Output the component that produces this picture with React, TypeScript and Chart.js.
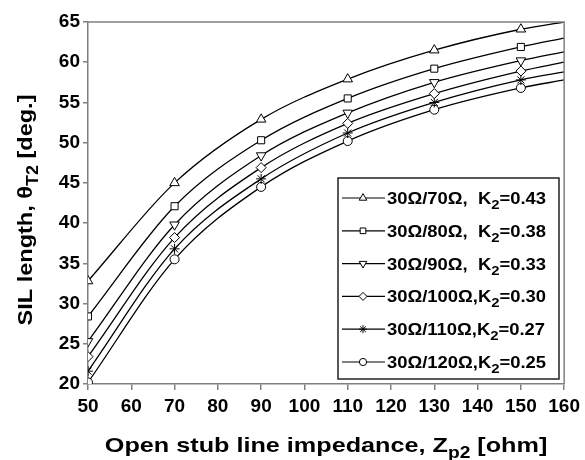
import React, { useEffect, useRef } from "react";
import { Chart, registerables } from "chart.js";

Chart.register(...registerables);

const impedance = [50, 70, 90, 110, 130, 150, 160];
const s70 = [32.8, 45.0, 52.9, 57.9, 61.5, 64.1, 65.0];
const s80 = [28.4, 42.1, 50.3, 55.5, 59.2, 61.9, 63.0];
const s90 = [25.3, 39.8, 48.4, 53.7, 57.5, 60.2, 61.3];
const s100 = [23.4, 38.2, 46.9, 52.4, 56.1, 58.9, 60.0];
const s110 = [21.6, 36.8, 45.5, 51.2, 55.0, 57.8, 58.8];
const s120 = [20.2, 35.5, 44.5, 50.2, 54.1, 56.8, 57.8];

const labelMain = ["30Ω/70Ω,  K", "30Ω/80Ω,  K", "30Ω/90Ω,  K", "30Ω/100Ω,K", "30Ω/110Ω,K", "30Ω/120Ω,K"];
const labelK = ["=0.43", "=0.38", "=0.33", "=0.30", "=0.27", "=0.25"];
const markerStyles = ["triangle", "rect", "triangle", "rectRot", "star", "circle"];
const markerRot = [0, 0, 180, 0, 0, 0];
const markerRadius = [5.5, 5, 5.5, 5, 5, 4.5];

const FONT = "'Liberation Sans', Arial, sans-serif";

type Part = { t: string; sub?: boolean };

function drawRich(ctx: CanvasRenderingContext2D, parts: Part[], x: number, y: number, size: number, subSize: number, subDy: number, align: "left" | "center", hs: number) {
  const fMain = `bold ${size}px ${FONT}`;
  const fSub = `bold ${subSize}px ${FONT}`;
  let total = 0;
  for (const p of parts) {
    ctx.font = p.sub ? fSub : fMain;
    total += ctx.measureText(p.t).width;
  }
  ctx.save();
  ctx.translate(x, y);
  ctx.scale(hs, 1);
  let cx = align === "center" ? -total / 2 : 0;
  ctx.textAlign = "left";
  ctx.textBaseline = "alphabetic";
  for (const p of parts) {
    ctx.font = p.sub ? fSub : fMain;
    ctx.fillText(p.t, cx, p.sub ? subDy : 0);
    cx += ctx.measureText(p.t).width;
  }
  ctx.restore();
}

function drawMarker(ctx: CanvasRenderingContext2D, style: string, r: number, rot: number, x: number, y: number) {
  ctx.save();
  ctx.translate(x, y);
  ctx.rotate((rot * Math.PI) / 180);
  ctx.beginPath();
  ctx.fillStyle = "#fff";
  ctx.strokeStyle = "#000";
  ctx.lineWidth = 1;
  if (style === "triangle") {
    for (let i = 0; i < 3; i++) {
      const a = (i * 2 * Math.PI) / 3;
      const px = Math.sin(a) * r;
      const py = -Math.cos(a) * r;
      if (i === 0) ctx.moveTo(px, py);
      else ctx.lineTo(px, py);
    }
    ctx.closePath();
    ctx.fill();
    ctx.stroke();
  } else if (style === "rect") {
    const h = r * Math.SQRT1_2;
    ctx.rect(-h, -h, 2 * h, 2 * h);
    ctx.fill();
    ctx.stroke();
  } else if (style === "rectRot") {
    ctx.moveTo(0, -r);
    ctx.lineTo(r, 0);
    ctx.lineTo(0, r);
    ctx.lineTo(-r, 0);
    ctx.closePath();
    ctx.fill();
    ctx.stroke();
  } else if (style === "circle") {
    ctx.arc(0, 0, r, 0, Math.PI * 2);
    ctx.fill();
    ctx.stroke();
  } else if (style === "star") {
    ctx.moveTo(0, -r);
    ctx.lineTo(0, r);
    ctx.moveTo(-r, 0);
    ctx.lineTo(r, 0);
    const d = r * Math.SQRT1_2;
    ctx.moveTo(-d, -d);
    ctx.lineTo(d, d);
    ctx.moveTo(-d, d);
    ctx.lineTo(d, -d);
    ctx.stroke();
  }
  ctx.restore();
}

const decorPlugin = {
  id: "decor",
  afterDraw(chart: any) {
    const ctx: CanvasRenderingContext2D = chart.ctx;
    const a = chart.chartArea;
    ctx.save();
    // frame top/right
    ctx.strokeStyle = "#808080";
    ctx.lineWidth = 1.5;
    ctx.beginPath();
    ctx.moveTo(a.left, a.top);
    ctx.lineTo(a.right, a.top);
    ctx.lineTo(a.right, a.bottom);
    ctx.stroke();

    // axis titles
    ctx.fillStyle = "#000";
    drawRich(ctx, [{ t: "Open stub line impedance, Z" }, { t: "p2", sub: true }, { t: " [ohm]" }], (a.left + a.right) / 2, 452, 21, 16, 6, "center", 1.2);
    ctx.save();
    ctx.translate(32, 210);
    ctx.rotate(-Math.PI / 2);
    drawRich(ctx, [{ t: "SIL length, θ" }, { t: "T2", sub: true }, { t: " [deg.]" }], 0, 0, 21, 16, 6, "center", 1.12);
    ctx.restore();

    // legend
    const lx = 338, ly = 178, lw = 221, lh = 201;
    ctx.fillStyle = "#fff";
    ctx.fillRect(lx, ly, lw, lh);
    ctx.strokeStyle = "#222";
    ctx.lineWidth = 1.5;
    ctx.strokeRect(lx, ly, lw, lh);
    for (let i = 0; i < labelMain.length; i++) {
      const y = 198 + i * 32.8;
      ctx.strokeStyle = "#000";
      ctx.lineWidth = 1.2;
      ctx.beginPath();
      ctx.moveTo(342, y);
      ctx.lineTo(385, y);
      ctx.stroke();
      drawMarker(ctx, markerStyles[i], markerRadius[i] * 0.8, markerRot[i], 363, y);
      ctx.fillStyle = "#000";
      drawRich(ctx, [{ t: labelMain[i] }, { t: "2", sub: true }, { t: labelK[i] }], 387, y + 6, 16, 13, 5, "left", 1.15);
    }
    ctx.restore();
  },
};

export default function App() {
  const ref = useRef<HTMLCanvasElement>(null);
  useEffect(() => {
    document.body.style.margin = "0";
    const series = [s70, s80, s90, s100, s110, s120];
    const datasets = series.map((s, i) => ({
      label: labelMain[i] + "2" + labelK[i],
      data: impedance.map((x, j) => ({ x, y: s[j] })),
      borderColor: "#000",
      borderWidth: 1.3,
      backgroundColor: "#fff",
      pointBackgroundColor: "#fff",
      pointBorderColor: "#000",
      pointBorderWidth: 1,
      pointStyle: markerStyles[i] as any,
      pointRotation: markerRot[i],
      pointRadius: impedance.map((x) => (x === 160 ? 0 : markerRadius[i])),
      cubicInterpolationMode: "monotone" as const,
      clip: 0,
      fill: false,
    }));
    const chart = new Chart(ref.current!, {
      type: "line",
      data: { datasets },
      plugins: [decorPlugin],
      options: {
        animation: false,
        responsive: false,
        devicePixelRatio: 1,
        layout: { padding: { top: 22, right: 20, left: 0, bottom: 0 } },
        plugins: { legend: { display: false }, tooltip: { enabled: false } },
        scales: {
          x: {
            type: "linear",
            min: 50,
            max: 160,
            afterFit: (s: any) => {
              s.height = 76;
            },
            ticks: { stepSize: 10, color: "#000", font: { family: FONT, size: 19, weight: "bold" }, padding: 5, maxRotation: 0, autoSkip: false },
            grid: { drawOnChartArea: false, drawTicks: true, tickLength: 6, color: "#808080", lineWidth: 1.5 },
            border: { color: "#808080", width: 1.5 },
          },
          y: {
            type: "linear",
            min: 20,
            max: 65,
            afterFit: (s: any) => {
              s.width = 88;
            },
            ticks: { stepSize: 5, color: "#000", font: { family: FONT, size: 19, weight: "bold" }, padding: 3 },
            grid: { drawOnChartArea: false, drawTicks: true, tickLength: 5, color: "#808080", lineWidth: 1.5 },
            border: { color: "#808080", width: 1.5 },
          },
        },
      },
    });
    return () => chart.destroy();
  }, []);
  return <canvas ref={ref} width={585} height={460} style={{ display: "block" }} />;
}
